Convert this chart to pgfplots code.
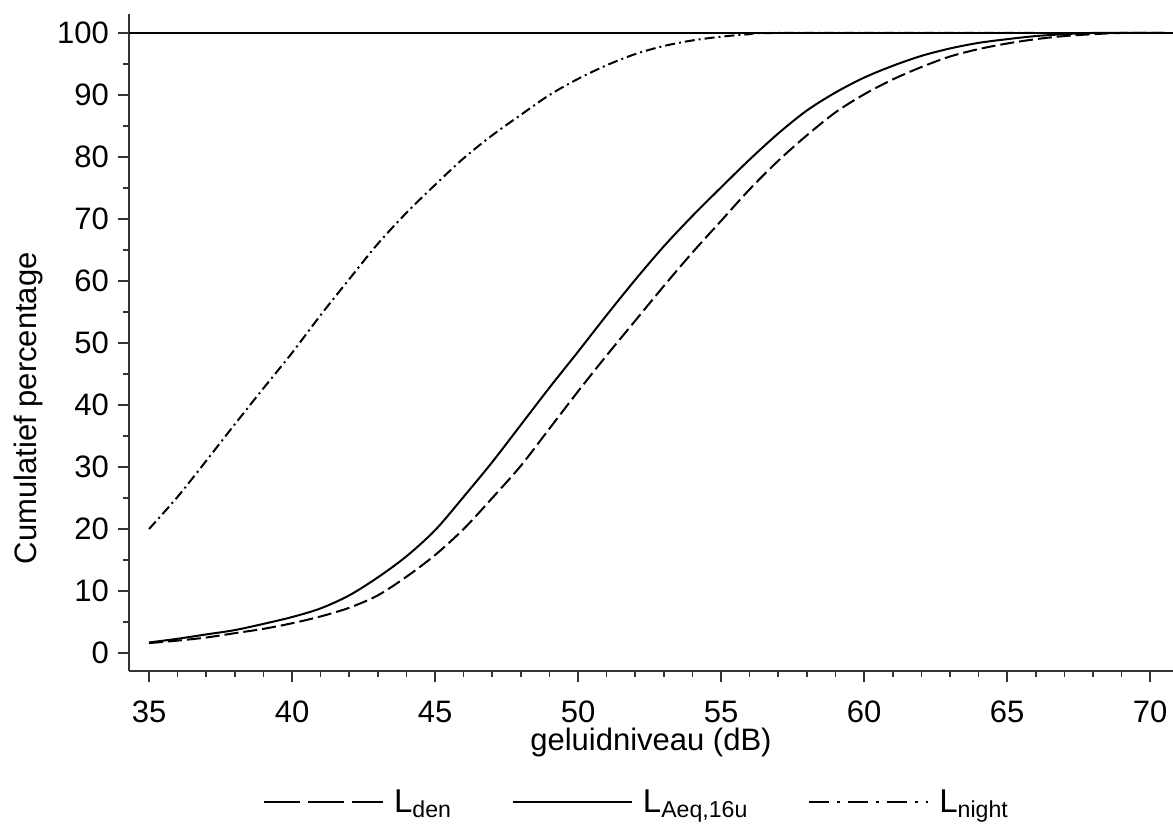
\documentclass[border=0pt]{standalone}
\usepackage{fontspec}
\setmainfont{Liberation Sans}
\usepackage{pgfplots}
\pgfplotsset{compat=1.18}
\usepackage{pgfplotstable}
\usetikzlibrary{calc}

\pgfplotstableread{
x y
35 1.7
36 2.3
37 3.0
38 3.7
39 4.7
40 5.8
41 7.2
42 9.3
43 12.2
44 15.6
45 19.8
46 25.2
47 30.8
48 36.8
49 42.8
50 48.6
51 54.5
52 60.2
53 65.6
54 70.5
55 75.1
56 79.6
57 83.8
58 87.5
59 90.4
60 92.8
61 94.7
62 96.3
63 97.5
64 98.4
65 99.0
66 99.5
67 99.8
68 100
70.5 100
}\aeq

\pgfplotstableread{
x y
35 1.6
36 2.0
37 2.5
38 3.2
39 3.9
40 4.8
41 5.9
42 7.3
43 9.3
44 12.3
45 15.8
46 20.0
47 25.0
48 30.2
49 36.2
50 42.2
51 48.0
52 53.6
53 59.2
54 64.6
55 69.7
56 74.8
57 79.4
58 83.5
59 87.2
60 90.1
61 92.5
62 94.5
63 96.2
64 97.4
65 98.3
66 99.0
67 99.5
68 99.8
69 100
70.5 100
}\den

\pgfplotstableread{
x y
35 20.0
36 25.2
37 31.0
38 36.9
39 42.7
40 48.4
41 54.5
42 60.3
43 66.0
44 71.0
45 75.5
46 79.8
47 83.5
48 86.8
49 90.0
50 92.6
51 94.8
52 96.6
53 97.9
54 98.8
55 99.4
56 99.8
57 100
66 100
}\night

\begin{document}
\begin{tikzpicture}
\begin{axis}[
  scale only axis,
  width=522pt, height=328.5pt,
  xmin=34.3, xmax=70.8,
  ymin=-2.9, ymax=103.06,
  axis x line=bottom, axis y line=left,
  axis line style={-, line width=0.9pt, black!80},
  xtick={35,40,...,70}, minor xtick={35,...,70},
  ytick={0,10,...,100}, minor ytick={5,15,...,95},
  tick align=outside,
  major tick length=5.5pt, minor tick length=3pt,
  every tick/.style={black!80, line width=0.8pt},
  /pgf/number format/assume math mode=true,
  tick label style={font=\fontsize{15.5}{18}\selectfont},
  xticklabel style={anchor=base, yshift=-20pt},
  yticklabel style={anchor=east, xshift=-1pt},
  xlabel={geluidniveau (dB)},
  ylabel={Cumulatief percentage},
  every axis x label/.style={at={(rel axis cs:0.5,0)}, anchor=base, yshift=-39.5pt,
    font=\fontsize{15.5}{18}\selectfont},
  every axis y label/.style={at={($(rel axis cs:0,0.40)+(-46pt,0pt)$)}, anchor=base, rotate=90,
    font=\fontsize{15.5}{18}\selectfont},
  legend columns=3,
  legend style={draw=none, fill=none, at={(rel axis cs:0.4875,-0.2)}, anchor=center,
    font=\fontsize{16.5}{19}\selectfont,
    /tikz/every even column/.append style={column sep=28pt},
    nodes={inner sep=2pt}},
  legend image code/.code={\draw[#1] (0pt,0pt) -- (59.5pt,0pt);},
  clip=false,
]
\coordinate (SW) at (rel axis cs:0,0);
\coordinate (NE) at (rel axis cs:1,1);
\addplot[black, line width=1pt, forget plot] coordinates {(34.3,100) (70.8,100)};
\addplot[black, line width=1pt, smooth, dash pattern=on 7pt off 2.5pt, forget plot] table[x=x,y=y] {\den};
\addplot[black, line width=1pt, smooth, forget plot] table[x=x,y=y] {\aeq};
\addplot[black, line width=1pt, smooth, dash pattern=on 5pt off 2pt on 1pt off 2pt, forget plot] table[x=x,y=y] {\night};
\addlegendimage{black, line width=1pt, dash pattern=on 18pt off 4pt}
\addlegendentry{\hspace{3pt}L\textsubscript{den}}
\addlegendimage{black, line width=1pt}
\addlegendentry{\hspace{3pt}L\textsubscript{Aeq,16u}}
\addlegendimage{black, line width=1pt, dash pattern=on 10pt off 4pt on 1.5pt off 4pt}
\addlegendentry{\hspace{3pt}L\textsubscript{night}}
\end{axis}
\pgfresetboundingbox
\path[use as bounding box] ([xshift=-64.5pt,yshift=-80pt]SW) rectangle ([yshift=7pt]NE);
\end{tikzpicture}
\end{document}
